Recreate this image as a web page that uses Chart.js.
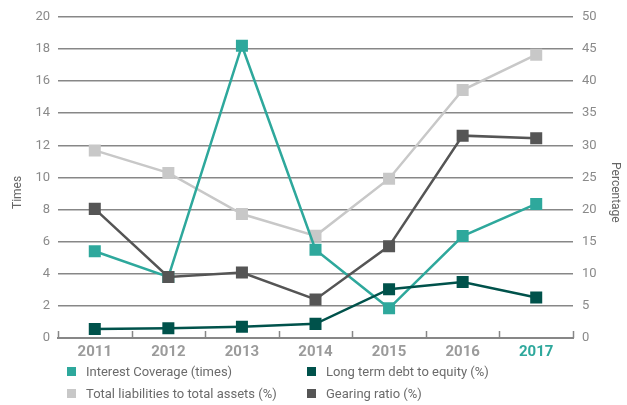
<!DOCTYPE html>
<html>
<head>
<meta charset="utf-8">
<script src="https://cdn.jsdelivr.net/npm/chart.js@4.4.1/dist/chart.umd.min.js"></script>
<style>
  html, body { margin: 0; padding: 0; background: #fff; }
  #wrap { position: relative; width: 627px; height: 405px; }
  #legend { position: absolute; left: 0; top: 364px; width: 627px; font-family: Roboto, "Open Sans", sans-serif; font-size: 13px; color: #6b6b6b; }
  .item { position: absolute; white-space: nowrap; line-height: 16px; }
  .box { position: absolute; left: 0; top: 3px; width: 9px; height: 9px; }
  .lbl { position: absolute; left: 19px; top: 0; }
</style>
</head>
<body>
<div id="wrap">
  <canvas id="chart" width="627" height="405"></canvas>
  <div id="legend"></div>
</div>
<script>
// 연도 (x축)
const years = ['2011', '2012', '2013', '2014', '2015', '2016', '2017'];

// 왼쪽 축 (Times)
const interestCoverage = [5.4, 3.8, 18.2, 5.5, 1.85, 6.35, 8.35];

// 오른쪽 축 (Percentage)
const longTermDebtToEquity = [1.4, 1.5, 1.75, 2.2, 7.6, 8.7, 6.3];
const totalLiabilitiesToAssets = [29.2, 25.7, 19.3, 15.9, 24.8, 38.6, 44.1];
const gearingRatio = [20.1, 9.5, 10.2, 6.0, 14.3, 31.5, 31.1];

const leftTicks = [0, 2, 4, 6, 8, 10, 12, 14, 16, 18, 20];
const rightTicks = [0, 5, 10, 15, 20, 25, 30, 35, 40, 45, 50];

const leftTitle = 'Times';
const rightTitle = 'Percentage';

const seriesNames = [
    'Interest Coverage (times)',
    'Long term debt to equity (%)',
    'Total liabilities to total assets (%)',
    'Gearing ratio (%)'
];

const TEAL = '#2ea89c';
const DARK_TEAL = '#00524b';
const LIGHT_GRAY = '#c8c8c8';
const DARK_GRAY = '#555555';
const GRID = '#878787';
const FONT = 'Roboto, "Open Sans", sans-serif';

function lineSet(label, data, color, axis, order) {
    return {
        label: label,
        data: data,
        yAxisID: axis,
        borderColor: color,
        backgroundColor: color,
        borderWidth: 2.5,
        pointStyle: 'rect',
        pointRadius: 8.5,
        pointHoverRadius: 8.5,
        pointBorderWidth: 0,
        tension: 0,
        order: order
    };
}

// x축 구간 경계 눈금(위쪽) + 축 제목
const extras = {
    id: 'extras',
    afterDraw(chart) {
        const x = chart.scales.x;
        const area = chart.chartArea;
        const ctx = chart.ctx;
        const step = (x.getPixelForValue(1) - x.getPixelForValue(0));
        ctx.save();
        ctx.strokeStyle = GRID;
        ctx.lineWidth = 1.5;
        for (let i = 0; i <= years.length; i++) {
            const px = Math.round(x.getPixelForValue(0) - step / 2 + i * step) + 0.5;
            ctx.beginPath();
            ctx.moveTo(px, area.bottom);
            ctx.lineTo(px, area.bottom - 7);
            ctx.stroke();
        }

        // 축 제목 (세로)
        const midY = (area.top + area.bottom) / 2 + 15;
        ctx.fillStyle = '#666';
        ctx.font = '12px ' + FONT;
        ctx.textAlign = 'center';
        ctx.textBaseline = 'middle';
        ctx.translate(18, midY);
        ctx.rotate(-Math.PI / 2);
        ctx.fillText(leftTitle, 0, 0);
        ctx.setTransform(1, 0, 0, 1, 0, 0);
        ctx.translate(chart.width - 12, midY);
        ctx.rotate(Math.PI / 2);
        ctx.fillText(rightTitle, 0, 0);
        ctx.restore();
    }
};

const ctx = document.getElementById('chart').getContext('2d');
new Chart(ctx, {
    type: 'line',
    data: {
        labels: years,
        datasets: [
            lineSet(seriesNames[0], interestCoverage, TEAL, 'yL', 3),
            lineSet(seriesNames[1], longTermDebtToEquity, DARK_TEAL, 'yR', 2),
            lineSet(seriesNames[2], totalLiabilitiesToAssets, LIGHT_GRAY, 'yR', 4),
            lineSet(seriesNames[3], gearingRatio, DARK_GRAY, 'yR', 1)
        ]
    },
    options: {
        responsive: false,
        animation: false,
        layout: { padding: { top: 14, bottom: 43, left: 0, right: 0 } },
        plugins: {
            legend: { display: false },
            tooltip: { enabled: false }
        },
        scales: {
            x: {
                offset: true,
                grid: { display: false, drawTicks: false },
                border: { display: true, color: GRID, width: 2 },
                ticks: {
                    padding: 5,
                    color: years.map((y, i) => i === years.length - 1 ? TEAL : '#9b9b9b'),
                    font: { family: FONT, size: 15, weight: 'bold' }
                },
                afterFit(scale) { scale.height = 24; }
            },
            yL: {
                position: 'left',
                min: 0,
                max: 20,
                afterBuildTicks(scale) { scale.ticks = leftTicks.map(v => ({ value: v })); },
                grid: { color: GRID, lineWidth: 1.4, drawTicks: false },
                border: { display: false },
                ticks: { padding: 8, color: '#8a8a8a', font: { family: FONT, size: 13 } },
                afterFit(scale) { scale.width = 58; }
            },
            yR: {
                position: 'right',
                min: 0,
                max: 50,
                afterBuildTicks(scale) { scale.ticks = rightTicks.map(v => ({ value: v })); },
                grid: { display: false, drawTicks: false },
                border: { display: false },
                ticks: { padding: 9, color: '#8a8a8a', font: { family: FONT, size: 13 } },
                afterFit(scale) { scale.width = 54; }
            }
        }
    },
    plugins: [extras]
});

// 범례 (2열 x 2행)
const legendColors = [TEAL, DARK_TEAL, LIGHT_GRAY, DARK_GRAY];
const legendPos = [[67, 0], [307, 0], [67, 22], [307, 22]];
const legend = document.getElementById('legend');
seriesNames.forEach((name, i) => {
    const item = document.createElement('div');
    item.className = 'item';
    item.style.left = legendPos[i][0] + 'px';
    item.style.top = legendPos[i][1] + 'px';
    item.innerHTML = '<span class="box" style="background:' + legendColors[i] + '"></span><span class="lbl">' + name + '</span>';
    legend.appendChild(item);
});
</script>
</body>
</html>
